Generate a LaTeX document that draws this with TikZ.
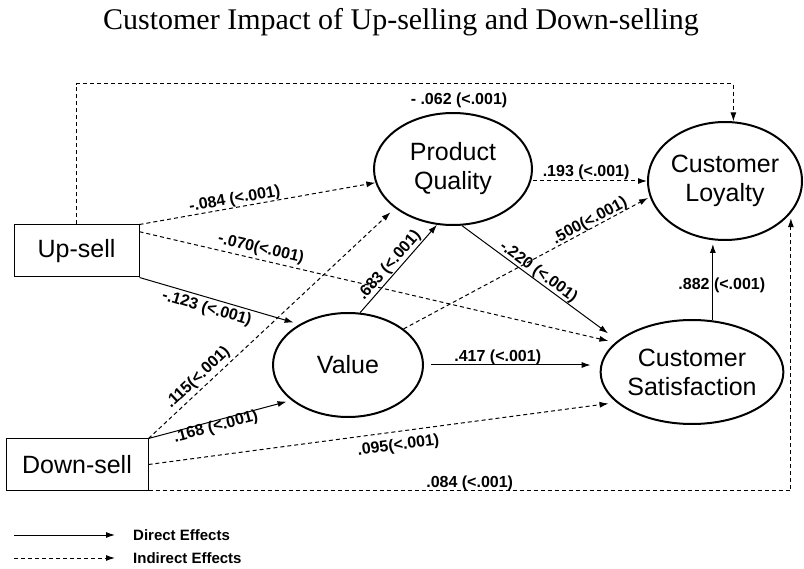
\documentclass[tikz,border=0pt]{standalone}
\usepackage{fontspec}
\setmainfont{Liberation Serif}
\setsansfont{Liberation Sans}
\usetikzlibrary{shapes.geometric,arrows.meta}

\begin{document}
\begin{tikzpicture}[x=1pt,y=-1pt,
        construct/.style={ellipse,draw,line width=2pt,inner sep=0pt,align=center,
            font=\sffamily\fontsize{25}{29}\selectfont},
        observed/.style={rectangle,draw,line width=1pt,inner sep=0pt,
            font=\sffamily\fontsize{25}{29}\selectfont},
        direct/.style={line width=1pt,-{Latex[length=9pt,width=6pt]}},
        indirect/.style={direct,dash pattern=on 4pt off 3pt},
        coef/.style={font=\sffamily\bfseries\fontsize{16}{18}\selectfont,inner sep=1pt},
        legendtext/.style={font=\sffamily\bfseries\fontsize{15}{17}\selectfont,anchor=west,inner sep=0pt}]
    \useasboundingbox (0,0) rectangle (804,569);

    \node[anchor=base,font=\fontsize{30}{36}\selectfont] (title) at (401,30)
        {Customer Impact of Up-selling and Down-selling};

    \node[observed,minimum width=125pt,minimum height=52pt] (upsell) at (76.5,251) {Up-sell};
    \node[observed,minimum width=142pt,minimum height=51pt] (downsell) at (77,464.5) {Down-sell};
    \node[construct,minimum width=158pt,minimum height=112pt] (quality) at (453,169) {Product\\Quality};
    \node[construct,minimum width=154pt,minimum height=118pt] (loyalty) at (725,181) {Customer\\Loyalty};
    \node[construct,minimum width=180pt,minimum height=104pt] (satisf) at (692,372) {Customer\\Satisfaction};
    \node[construct,minimum width=150pt,minimum height=104pt] (value) at (348,365) {Value};

    \coordinate (topline) at (0,84);
    \draw[indirect] (upsell.north) |- (topline -| loyalty.82) -- (loyalty.82);
    \node[coef] (toplabel) at (459,100) {- .062 (<.001)};

    \draw[indirect] (upsell.north east) -- node[coef,sloped,above=-1pt,pos=0.41] {-.084 (<.001)} (quality);
    \draw[indirect,shorten >=7pt] (upsell.17) -- node[coef,sloped,above=2pt,pos=0.25] {-.070(<.001)} (satisf.159);
    \draw[direct,shorten >=6pt] (upsell.south east) -- node[coef,sloped,below=2pt,pos=0.44] {-.123 (<.001)} (value.140);
    \draw[indirect,shorten >=6pt] (downsell.north east) -- node[coef,sloped,above=1.5pt,pos=0.23] {.115(<.001)} (quality.214);
    \draw[direct,shorten >=5pt] (downsell.north east) -- node[coef,sloped,below=-2.5pt,pos=0.46] {.168 (<.001)} (value.212);
    \draw[indirect,shorten >=8pt] (downsell.east) -- node[coef,sloped,below=5.5pt,pos=0.53] {.095(<.001)} (satisf.202);
    \draw[indirect,shorten >=5pt] (downsell.south east) -| node[coef,above=-2pt,pos=0.25] {.084 (<.001)} (loyalty.334);
    \draw[direct] (value.77) -- node[coef,sloped,above=0pt,pos=0.47] {.683 (<.001)} (quality.254);
    \draw[indirect,shorten >=2pt] (value.33) -- node[coef,sloped,above=-2pt,pos=0.77] {.500(<.001)} (loyalty.192);
    \draw[direct,shorten >=12pt] (quality.279) -- node[coef,sloped,above=-1pt,pos=0.46] {-.220 (<.001)} (satisf.157);
    \draw[indirect] (loyalty.west -| quality.east) -- node[coef,above=-0.5pt,pos=0.466] {.193 (<.001)} (loyalty.west);
    \draw[direct,shorten <=7pt,shorten >=9pt] (value.east) -- node[coef,above=-1.5pt,pos=0.42] {.417 (<.001)} (value.east -| satisf.west);
    \draw[direct,shorten >=3pt] (satisf.68) -- node[coef,pos=0.44,xshift=9pt] {.882 (<.001)} (satisf.68 |- loyalty.south);

    \node[legendtext] (directkey) at (133,535) {Direct Effects};
    \node[legendtext] (indirectkey) at (133,558) {Indirect Effects};
    \coordinate (directstart) at (14,535);
    \coordinate (indirectstart) at (14,558);
    \draw[direct] (directstart) -- ([xshift=-18pt]directkey.west);
    \draw[indirect] (indirectstart) -- ([xshift=-18pt]indirectkey.west);
\end{tikzpicture}
\end{document}
